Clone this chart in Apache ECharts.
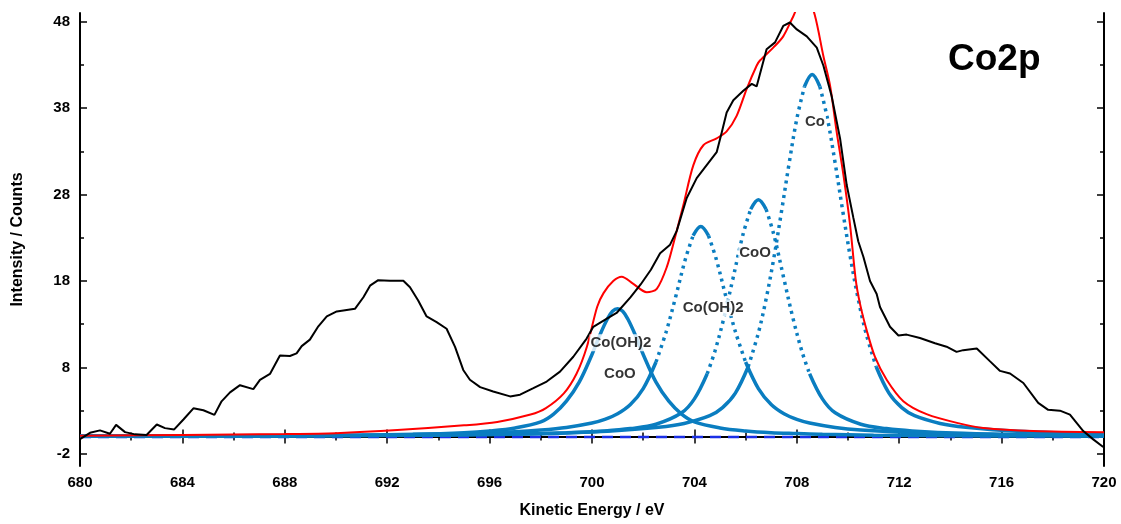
<!DOCTYPE html>
<html>
<head>
<meta charset="utf-8">
<script src="https://cdn.jsdelivr.net/npm/echarts@6/dist/echarts.min.js"></script>
<style>
  html, body { margin: 0; padding: 0; background: #fff; }
  #chart { width: 1121px; height: 524px; }
</style>
</head>
<body>
<div id="chart"></div>
<script>
// measured spectrum (black)
var energy = [680.0,680.39,680.78,681.17,681.41,681.76,682.15,682.6,683.0,683.32,683.68,684.04,684.43,684.82,685.25,685.53,685.86,686.25,686.77,687.03,687.42,687.81,688.2,688.46,688.66,688.98,689.31,689.64,690.03,690.29,690.74,691.07,691.33,691.65,692.11,692.63,692.89,693.21,693.54,693.93,694.32,694.65,694.97,695.23,695.63,696.14,696.8,697.19,697.71,698.23,698.75,699.27,699.79,700.05,700.5,700.96,701.5,701.9,702.3,702.66,703.05,703.31,703.7,704.09,704.48,704.87,705.07,705.26,705.52,705.91,706.24,706.43,706.82,707.15,707.47,707.73,708.0,708.39,708.78,709.04,709.36,709.69,709.95,710.21,710.4,710.6,710.86,711.12,711.25,711.64,711.97,712.29,712.81,713.4,713.85,714.24,714.5,715.03,715.55,715.94,716.33,716.85,717.43,717.82,718.28,718.67,719.19,719.58,719.97];
var counts = [-0.3,0.44,0.72,0.33,1.36,0.52,0.26,0.18,1.4,0.98,0.83,1.98,3.27,3.05,2.51,4.08,5.11,5.95,5.49,6.57,7.25,9.39,9.32,9.62,10.47,11.22,12.76,13.9,14.48,14.59,14.78,16.12,17.46,18.1,18.03,18.03,17.27,15.74,13.9,13.25,12.48,10.38,7.71,6.57,5.72,5.22,4.65,4.85,5.6,6.37,7.52,9.24,11.34,12.7,13.5,14.3,16.1,17.6,19.3,21.2,22.2,23.8,27.6,29.9,31.4,32.9,35.2,37.5,38.9,40.0,40.8,40.5,44.8,45.6,47.5,47.9,47.1,46.3,45.0,42.9,39.4,34.5,29.1,25.3,22.6,20.8,18.0,16.5,15.0,12.7,11.7,11.8,11.4,10.8,10.4,9.8,10.0,10.2,8.7,7.6,7.3,6.2,3.9,3.1,3.0,2.55,0.64,-0.32,-1.2];

// fit envelope (red)
var fitX = [680,684,688,690,692.4,695,696.3,697.6,698.2,698.9,699.4,699.8,700.2,700.45,700.83,701.16,701.6,702.14,702.53,702.92,703.24,703.57,703.96,704.35,704.87,705.26,705.65,706.04,706.43,706.56,707.08,707.47,707.86,708.2,708.45,708.7,709.04,709.3,709.56,709.82,710.08,710.3,710.47,710.73,711.05,711.51,712.16,713.07,714.38,715.29,717.24,720];
var fitY = [0.1,0.2,0.3,0.4,0.75,1.3,1.7,2.55,3.3,5.0,7.3,10.4,15.0,16.6,18.0,18.5,17.7,16.7,17.1,19.6,23.0,26.8,31.4,33.7,34.5,35.3,37.1,40.2,42.9,43.5,45.0,46.3,48.6,50.5,50.4,48.8,44.0,40.6,35.2,30.3,24.5,18.2,15.35,12.3,9.24,6.57,4.1,2.6,1.5,1.0,0.64,0.5];

// fitted components (blue)
var pk1X = [680,684,688,691,693,695,696,697,698,698.5,699,699.5,700,700.3,700.6,700.8,701,701.2,701.4,701.7,702,702.5,703,703.5,704,705,706,707,708,709,711,714,717,720];
var pk1Y = [0.05,0.07,0.1,0.17,0.26,0.45,0.65,1.0,1.7,2.6,4.1,6.3,9.5,11.7,13.6,14.5,14.8,14.5,13.6,11.7,9.5,6.3,4.1,2.6,1.7,1.0,0.65,0.45,0.35,0.26,0.17,0.1,0.07,0.05];
var pk2X = [680,684,688,692,695,697,698,699,700,700.5,701,701.5,702,702.5,702.9,703.25,703.65,703.95,704.25,704.55,704.85,705.25,705.6,706.0,706.5,707,707.5,708,708.5,709.5,710.5,712.5,715,718,720];
var pk2Y = [0.05,0.075,0.12,0.2,0.36,0.57,0.76,1.06,1.57,1.99,2.64,3.71,5.56,8.63,12.15,15.96,20.56,23.25,24.3,23.25,20.56,15.96,12.15,8.63,5.56,3.71,2.64,1.99,1.57,1.06,0.76,0.44,0.26,0.16,0.12];
var pk3X = [680,685,690,694,697,699,700.5,701.5,702.5,703.5,704,704.5,704.8,705.15,705.5,705.9,706.2,706.5,706.8,707.1,707.5,707.85,708.2,708.5,709,709.5,710.5,711.5,712.5,714.5,717,720];
var pk3Y = [0.036,0.054,0.09,0.16,0.27,0.43,0.66,0.93,1.43,2.75,4.36,7.27,9.86,13.7,18.2,23.4,26.3,27.4,26.3,23.4,18.2,13.7,9.86,7.27,4.36,2.75,1.43,0.93,0.66,0.38,0.22,0.14];
var pk4X = [680,686,690,694,697,699,700.6,702.6,703.6,704.6,705.1,705.6,706.1,706.5,706.8,707.1,707.4,707.7,708.0,708.3,708.6,708.9,709.2,709.5,709.8,710.1,710.4,710.7,711.1,711.6,712.1,712.6,713.6,714.6,716.6,720];
var pk4Y = [0.05,0.08,0.12,0.19,0.30,0.44,0.62,1.08,1.52,2.42,3.35,5.03,8.08,12.0,15.9,20.6,26.0,31.6,36.75,40.5,41.9,40.5,36.75,31.6,26.0,20.6,15.9,12.0,8.08,5.03,3.35,2.42,1.52,1.08,0.62,0.31];

// background line (dashed)
var baseX = [680, 720];
var baseY = [-0.05, -0.05];

// peak labels
var labelText = ['Co', 'CoO', 'Co(OH)2', 'Co(OH)2', 'CoO'];
var labelX = [708.71, 706.37, 704.73, 701.13, 701.09];
var labelY = [36.4, 21.2, 14.9, 10.85, 7.3];

// axis ticks
var yMajor = [-2, 8, 18, 28, 38, 48];
var yMinor = [3, 13, 23, 33, 43];
var xMin = 680, xMax = 720, yMin = -3.4, yMax = 49;

var W = 1121, H = 524;
var G = { left: 80, right: 17, top: 13, bottom: 54 };
var pxX = (W - G.left - G.right) / (xMax - xMin);
var pxY = (H - G.top - G.bottom) / (yMax - yMin);

function pairs(xs, ys) {
  return xs.map(function (x, i) { return [x, ys[i]]; });
}

// steep parts of a component look dotted in the original plot, flat parts solid
function splitSteep(xs, ys) {
  var solid = [], dotted = [], prev = null;
  for (var i = 0; i < xs.length - 1; i++) {
    var s = Math.abs(ys[i + 1] - ys[i]) * pxY / ((xs[i + 1] - xs[i]) * pxX);
    var t = s > 2.8 ? 'd' : 's';
    var arr = t === 'd' ? dotted : solid;
    var other = t === 'd' ? solid : dotted;
    if (prev !== t) {
      other.push([xs[i], '-']);
      arr.push([xs[i], ys[i]]);
    }
    arr.push([xs[i + 1], ys[i + 1]]);
    prev = t;
  }
  return { solid: solid, dotted: dotted };
}

var blue = '#0a7dc0';
var font = 'Liberation Sans, Arial, sans-serif';

var series = [];
series.push({
  type: 'line', name: 'base', data: pairs(baseX, baseY), showSymbol: false, z: 1,
  lineStyle: { color: '#1a2fe6', width: 2.5, type: [11, 7] }
});
[[pk1X, pk1Y], [pk2X, pk2Y], [pk3X, pk3Y], [pk4X, pk4Y]].forEach(function (p, k) {
  var parts = splitSteep(p[0], p[1]);
  series.push({
    type: 'line', name: 'pk' + k, data: parts.solid, showSymbol: false, smooth: 0.35, z: 2,
    connectNulls: false,
    lineStyle: { color: blue, width: 3.5 }
  });
  series.push({
    type: 'line', name: 'pk' + k + 'd', data: parts.dotted, showSymbol: false, smooth: 0.35, z: 2,
    connectNulls: false,
    lineStyle: { color: blue, width: 3.5, type: [3, 4.5], cap: 'butt' }
  });
});
series.push({
  type: 'line', name: 'fit', data: pairs(fitX, fitY), showSymbol: false, smooth: 0.3, z: 3,
  lineStyle: { color: '#ff0000', width: 2 }
});
series.push({
  type: 'line', name: 'data', data: pairs(energy, counts), showSymbol: false, z: 4,
  lineStyle: { color: '#000', width: 2 }
});
series.push({
  type: 'scatter', name: 'labels', z: 10, symbolSize: 1,
  itemStyle: { color: 'rgba(0,0,0,0)' },
  data: labelText.map(function (t, i) { return { name: t, value: [labelX[i], labelY[i]] }; }),
  label: {
    show: true, position: 'inside', formatter: '{b}',
    color: '#000', fontSize: 15, fontWeight: 'bold', fontFamily: font,
    backgroundColor: '#fff', padding: [1, 1]
  }
});

function xAx(pos, labels) {
  return {
    type: 'value', position: pos, min: xMin, max: xMax, interval: 4,
    name: labels ? 'Kinetic Energy / eV' : '', nameLocation: 'middle', nameGap: 37,
    nameTextStyle: { color: '#000', fontSize: 16, fontWeight: 'bold', fontFamily: font },
    axisLine: { show: true, lineStyle: { color: '#000', width: 2 } },
    axisTick: { show: true, inside: true, length: 7, lineStyle: { color: '#000', width: 1.5 } },
    minorTick: { show: true, splitNumber: 2, length: 4, lineStyle: { color: '#000', width: 1.5 } },
    axisLabel: { show: labels, margin: 9, color: '#000', fontSize: 15, fontWeight: 'bold', fontFamily: font },
    splitLine: { show: false }
  };
}
function yAx(pos, ticks, len, line, labels) {
  return {
    type: 'value', position: pos, min: yMin, max: yMax,
    name: labels ? 'Intensity / Counts' : '', nameLocation: 'middle', nameGap: 54,
    nameTextStyle: { color: '#000', fontSize: 16, fontWeight: 'bold', fontFamily: font },
    axisLine: { show: line, onZero: false, lineStyle: { color: '#000', width: 2 } },
    axisTick: { show: true, inside: true, length: len, customValues: ticks, lineStyle: { color: '#000', width: 1.5 } },
    axisLabel: { show: labels, customValues: ticks, margin: 10, color: '#000', fontSize: 15, fontWeight: 'bold', fontFamily: font },
    splitLine: { show: false }
  };
}

var chart = echarts.init(document.getElementById('chart'), null, { renderer: 'canvas' });
chart.setOption({
  backgroundColor: '#fff',
  animation: false,
  title: {
    text: 'Co2p', left: 943, top: 36,
    textStyle: { color: '#000', fontSize: 37, fontWeight: 'bold', fontFamily: font }
  },
  grid: { left: G.left, right: G.right, top: G.top, bottom: G.bottom, containLabel: false },
  xAxis: [xAx('bottom', true), xAx('top', false)],
  yAxis: [
    yAx('left', yMajor, 7, true, true),
    yAx('left', yMinor, 4, false, false),
    yAx('right', yMajor, 7, true, false),
    yAx('right', yMinor, 4, false, false)
  ],
  series: series
});
</script>
</body>
</html>
